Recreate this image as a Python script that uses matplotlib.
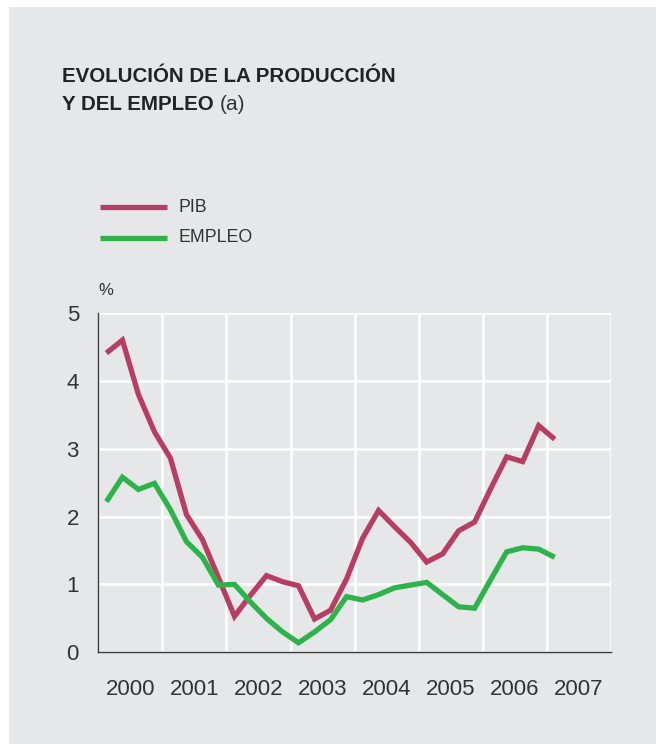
import numpy as np
import matplotlib.pyplot as plt
from matplotlib.patches import Rectangle

plt.rcParams['font.family'] = ['Liberation Sans', 'DejaVu Sans']

# datos trimestrales 2000T1 - 2007T1
pib = [4.41, 4.60, 3.80, 3.25, 2.86, 2.03, 1.66, 1.10, 0.53, 0.84,
       1.13, 1.04, 0.98, 0.49, 0.62, 1.08, 1.68, 2.09, 1.85, 1.62,
       1.33, 1.45, 1.79, 1.92, 2.41, 2.88, 2.81, 3.34, 3.14]
empleo = [2.22, 2.58, 2.40, 2.49, 2.10, 1.63, 1.40, 0.99, 1.00, 0.74,
          0.50, 0.30, 0.14, 0.30, 0.48, 0.82, 0.77, 0.85, 0.95, 0.99,
          1.03, 0.85, 0.67, 0.65, 1.07, 1.48, 1.54, 1.52, 1.40]
years = ['2000', '2001', '2002', '2003', '2004', '2005', '2006', '2007']
yticks = [0, 1, 2, 3, 4, 5]

bg = '#e6e7e9'
col_pib = '#b83d63'
col_emp = '#2db34a'
txt = '#333333'

fig = plt.figure(figsize=(6.56, 7.44), dpi=100)
fig.patch.set_facecolor('white')
fig.patches.append(Rectangle((9/656, 0), 1, 1 - 7/744, transform=fig.transFigure,
                             facecolor=bg, edgecolor='none', zorder=-10))

ax = fig.add_axes([0.150, 0.1233, 0.781, 0.456])
ax.set_facecolor(bg)

x = (np.arange(len(pib)) + 0.5) / 4
ax.plot(x, pib, color=col_pib, lw=3.8, solid_capstyle='butt', solid_joinstyle='miter', zorder=3)
ax.plot(x, empleo, color=col_emp, lw=3.8, solid_capstyle='butt', solid_joinstyle='miter', zorder=3)

ax.set_xlim(0, 8)
ax.set_ylim(0, 5)
ax.set_xticks(np.arange(0, 9), minor=False)
ax.set_xticklabels([])
ax.set_xticks(np.arange(len(years)) + 0.5, minor=True)
ax.set_xticklabels(years, minor=True)
ax.set_yticks(yticks)
ax.set_yticklabels([str(v) for v in yticks])
ax.grid(True, which='major', color='white', lw=1.9)
ax.tick_params(which='both', length=0, labelsize=16, colors=txt)
ax.tick_params(axis='x', which='minor', pad=19)
ax.tick_params(axis='y', pad=14)
for s in ['top', 'right']:
    ax.spines[s].set_visible(False)
for s in ['left', 'bottom']:
    ax.spines[s].set_color('#3a3a3a')
    ax.spines[s].set_linewidth(1.0)
    ax.spines[s].set_zorder(4)

ax.text(0.0, 1.045, '%', transform=ax.transAxes, fontsize=12, color=txt, va='bottom', ha='left')

# titulo
fig.text(62/656, 1 - 76/744, 'EVOLUCIÓN DE LA PRODUCCIÓN', fontsize=14.8, fontweight='bold',
         color='#222222', va='center')
t2 = fig.text(62/656, 1 - 105/744, 'Y DEL EMPLEO', fontsize=14.8, fontweight='bold',
              color='#222222', va='center')
fig.canvas.draw()
bb = t2.get_window_extent()
fig.text((bb.x1 + 6) / 656, 1 - 105/744, '(a)', fontsize=15, color='#333333', va='center')

# leyenda
for yy, c, lab in [(207, col_pib, 'PIB'), (238, col_emp, 'EMPLEO')]:
    fig.add_artist(plt.Line2D([100/656, 167/656], [1 - yy/744, 1 - yy/744], color=c,
                              lw=3.8, solid_capstyle='butt', transform=fig.transFigure))
    fig.text(178/656, 1 - yy/744, lab, fontsize=12.8, color=txt, va='center')

plt.savefig('out.png', dpi=100, facecolor=fig.get_facecolor())
